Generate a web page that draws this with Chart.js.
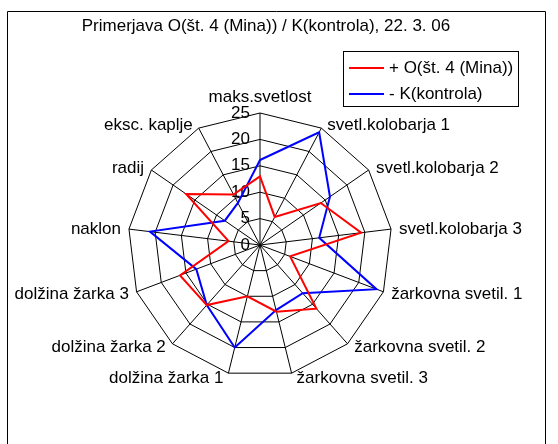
<!DOCTYPE html>
<html lang="sl">
<head>
<meta charset="utf-8">
<title>Primerjava O / K</title>
<script src="https://cdn.jsdelivr.net/npm/chart.js@4.4.1/dist/chart.umd.min.js"></script>
<style>
  html, body { margin: 0; padding: 0; background: #fff; }
  #wrap { position: relative; width: 558px; height: 444px; }
</style>
</head>
<body>
<div id="wrap"><canvas id="radarChart"></canvas></div>
<script>
// --- podatki (odčitani z grafa) ---
const chartTitle = "Primerjava O(št. 4 (Mina)) / K(kontrola), 22. 3. 06";

const categories = [
  "maks.svetlost",
  "svetl.kolobarja 1",
  "svetl.kolobarja 2",
  "svetl.kolobarja 3",
  "žarkovna svetil. 1",
  "žarkovna svetil. 2",
  "žarkovna svetil. 3",
  "dolžina žarka 1",
  "dolžina žarka 2",
  "dolžina žarka 3",
  "naklon",
  "radij",
  "eksc. kaplje"
];

const minaLabel = "+ O(št. 4 (Mina))";
const minaValues = [13, 6, 14, 19.3, 6.1, 16.1, 13, 10, 15.2, 16.2, 6, 17, 10.8];

const kontrolaLabel = "- K(kontrola)";
const kontrolaValues = [16.1, 24.1, 16.1, 11.3, 23.6, 12.2, 12.7, 20, 15.2, 12.9, 21, 8.1, 9];

const tickValues = [0, 5, 10, 15, 20, 25];

document.addEventListener("DOMContentLoaded", function() {

  const FONT = "17px 'Liberation Sans', Arial, sans-serif";
  Chart.defaults.font.family = "'Liberation Sans', Arial, sans-serif";
  Chart.defaults.font.size = 17;
  Chart.defaults.color = "#000";

  // oznake osi (0..25) - pod črtami serij
  const tickLabelsPlugin = {
    id: "tickLabels",
    beforeDatasetsDraw(chart) {
      const ctx = chart.ctx;
      const r = chart.scales.r;
      ctx.save();
      ctx.font = FONT;
      ctx.fillStyle = "#000";
      ctx.textAlign = "right";
      ctx.textBaseline = "middle";
      tickValues.forEach(v => {
        const y = r.yCenter - r.getDistanceFromCenterForValue(v);
        ctx.fillText(String(v), r.xCenter - 10, y);
      });
      ctx.restore();
    }
  };

  // okvir, naslov, imena kategorij in legenda
  const decorPlugin = {
    id: "decor",
    afterDraw(chart) {
      const ctx = chart.ctx;
      const r = chart.scales.r;
      ctx.save();

      // okvir grafa
      ctx.strokeStyle = "#000";
      ctx.lineWidth = 1;
      ctx.beginPath();
      ctx.moveTo(7.5, 444);
      ctx.lineTo(7.5, 11.5);
      ctx.lineTo(545.5, 11.5);
      ctx.lineTo(545.5, 444);
      ctx.stroke();

      ctx.font = FONT;
      ctx.fillStyle = "#000";

      // naslov
      ctx.textAlign = "center";
      ctx.textBaseline = "alphabetic";
      ctx.fillText(chartTitle, 266, 31);

      // imena kategorij ob ogliščih
      categories.forEach((label, i) => {
        const a = r.getIndexAngle(i);
        const p = r.getPointPosition(i, r.drawingArea);
        const s = Math.sin(a);
        const c = Math.cos(a);
        if (Math.abs(s) < 0.01) {
          ctx.textAlign = "center";
          ctx.textBaseline = "alphabetic";
          ctx.fillText(label, p.x, p.y - 11);
          return;
        }
        const dx = 4 + 4 * Math.abs(s);
        ctx.textAlign = s > 0 ? "left" : "right";
        ctx.textBaseline = "middle";
        ctx.fillText(label, p.x + (s > 0 ? dx : -dx), p.y - 4 * c + 1);
      });

      // legenda
      ctx.strokeStyle = "#000";
      ctx.lineWidth = 1;
      ctx.strokeRect(343.5, 51.5, 175, 55);
      ctx.textAlign = "left";
      ctx.textBaseline = "middle";
      chart.data.datasets.forEach((ds, i) => {
        const y = 68 + i * 26;
        ctx.strokeStyle = ds.borderColor;
        ctx.lineWidth = 2;
        ctx.beginPath();
        ctx.moveTo(349, y);
        ctx.lineTo(384, y);
        ctx.stroke();
        ctx.fillText(ds.label, 389, y);
      });

      ctx.restore();
    }
  };

  const ctx = document.getElementById("radarChart").getContext("2d");
  new Chart(ctx, {
    type: "radar",
    data: {
      labels: categories,
      datasets: [
        {
          label: minaLabel,
          data: minaValues,
          borderColor: "#ff0000",
          backgroundColor: "#ff0000",
          fill: false
        },
        {
          label: kontrolaLabel,
          data: kontrolaValues,
          borderColor: "#0000ff",
          backgroundColor: "#0000ff",
          fill: false
        }
      ]
    },
    options: {
      responsive: true,
      maintainAspectRatio: false,
      animation: false,
      layout: { padding: { left: 128, right: 166, top: 113, bottom: 67 } },
      plugins: {
        legend: { display: false },
        title: { display: false },
        tooltip: { enabled: false }
      },
      elements: {
        line: { tension: 0, borderWidth: 2 },
        point: { radius: 0, hoverRadius: 0 }
      },
      scales: {
        r: {
          min: 0,
          max: 25,
          ticks: { stepSize: 5, display: false },
          grid: { color: "#000", lineWidth: 1 },
          angleLines: { color: "#000", lineWidth: 1 },
          pointLabels: { display: false }
        }
      }
    },
    plugins: [tickLabelsPlugin, decorPlugin]
  });
});
</script>
</body>
</html>
